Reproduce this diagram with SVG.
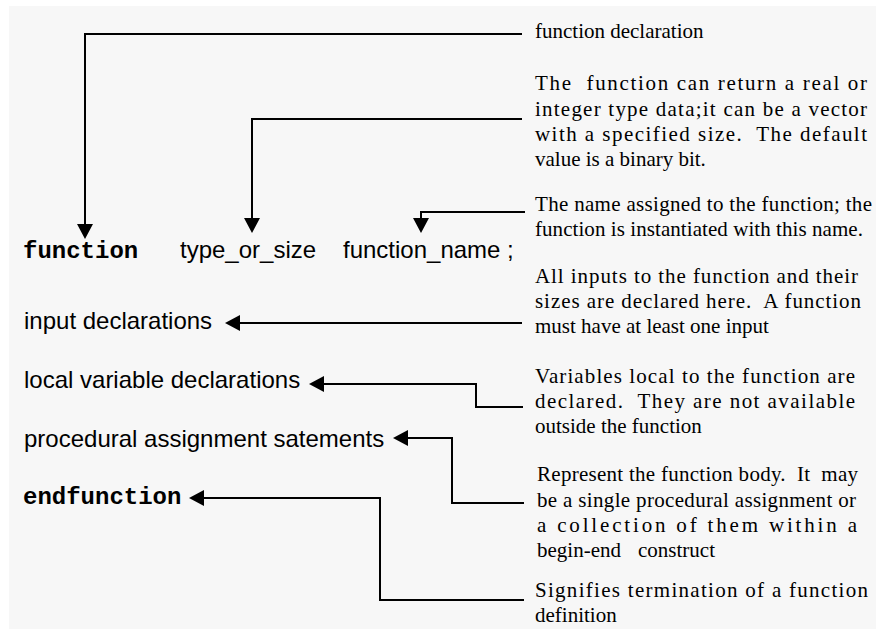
<svg xmlns="http://www.w3.org/2000/svg" width="876" height="629" viewBox="0 0 876 629">
<style>
.bg{fill:#f7f7f7}
.kw{font-family:"Liberation Mono","Courier New",monospace;font-weight:bold;font-size:24px;fill:#000}
.lb{font-family:"Liberation Sans",Arial,sans-serif;font-size:24px;fill:#000}
.nt{font-family:"Liberation Serif","Times New Roman",serif;font-size:21px;fill:#000;white-space:pre}
.cn{fill:none;stroke:#000;stroke-width:2;marker-end:url(#ah)}
</style>
<defs>
<marker id="ah" markerUnits="userSpaceOnUse" markerWidth="16" markerHeight="16" refX="0" refY="8" orient="auto">
<path d="M0,0 L15,8 L0,16 Z" fill="#000"/>
</marker>
</defs>
<rect class="bg" x="9" y="6" width="867" height="623"/>
<g id="connectors">
<path class="cn" d="M522,34 H85 V224"/>
<path class="cn" d="M522,119 H252 V218"/>
<path class="cn" d="M525,212 H421 V218"/>
<path class="cn" d="M522,323 H240"/>
<path class="cn" d="M523,407 H476 V384 H324"/>
<path class="cn" d="M524,503 H452 V438 H408"/>
<path class="cn" d="M524,600 H380 V498 H204"/>
</g>
<g id="n-function"><text class="kw" x="23" y="258">function</text></g>
<g id="n-type"><text class="lb" x="180" y="258">type_or_size</text></g>
<g id="n-name"><text class="lb" x="343" y="258">function_name ;</text></g>
<g id="n-input"><text class="lb" x="24" y="329">input declarations</text></g>
<g id="n-local"><text class="lb" x="24" y="388">local variable declarations</text></g>
<g id="n-proc"><text class="lb" x="24" y="447">procedural assignment satements</text></g>
<g id="n-end"><text class="kw" x="23" y="504">endfunction</text></g>
<g id="d-decl"><text class="nt" x="535" y="38">function declaration</text></g>
<g id="d-type">
<text class="nt" x="535" y="90" textLength="332" lengthAdjust="spacing" xml:space="preserve">The  function can return a real or</text>
<text class="nt" x="535" y="116" textLength="332" lengthAdjust="spacing">integer type data;it can be a vector</text>
<text class="nt" x="535" y="141" textLength="332" lengthAdjust="spacing" xml:space="preserve">with a specified size.  The default</text>
<text class="nt" x="535" y="166">value is a binary bit.</text>
</g>
<g id="d-name">
<text class="nt" x="535" y="211" textLength="337" lengthAdjust="spacing">The name assigned to the function; the</text>
<text class="nt" x="535" y="236" textLength="328" lengthAdjust="spacing">function is instantiated with this name.</text>
</g>
<g id="d-input">
<text class="nt" x="535" y="283" textLength="323" lengthAdjust="spacing">All inputs to the function and their</text>
<text class="nt" x="535" y="308" textLength="326" lengthAdjust="spacing" xml:space="preserve">sizes are declared here.  A function</text>
<text class="nt" x="535" y="333">must have at least one input</text>
</g>
<g id="d-local">
<text class="nt" x="535" y="383" textLength="320" lengthAdjust="spacing">Variables local to the function are</text>
<text class="nt" x="535" y="408" textLength="320" lengthAdjust="spacing" xml:space="preserve">declared.  They are not available</text>
<text class="nt" x="535" y="433">outside the function</text>
</g>
<g id="d-proc">
<text class="nt" x="537" y="481" textLength="321" lengthAdjust="spacing" xml:space="preserve">Represent the function body.  It  may</text>
<text class="nt" x="537" y="507" textLength="319" lengthAdjust="spacing">be a single procedural assignment or</text>
<text class="nt" x="537" y="532" textLength="320" lengthAdjust="spacing">a collection of them within a</text>
<text class="nt" x="537" y="557">begin-end<tspan x="638">construct</tspan></text>
</g>
<g id="d-end">
<text class="nt" x="535" y="597" textLength="333" lengthAdjust="spacing">Signifies termination of a function</text>
<text class="nt" x="535" y="622">definition</text>
</g>
</svg>
